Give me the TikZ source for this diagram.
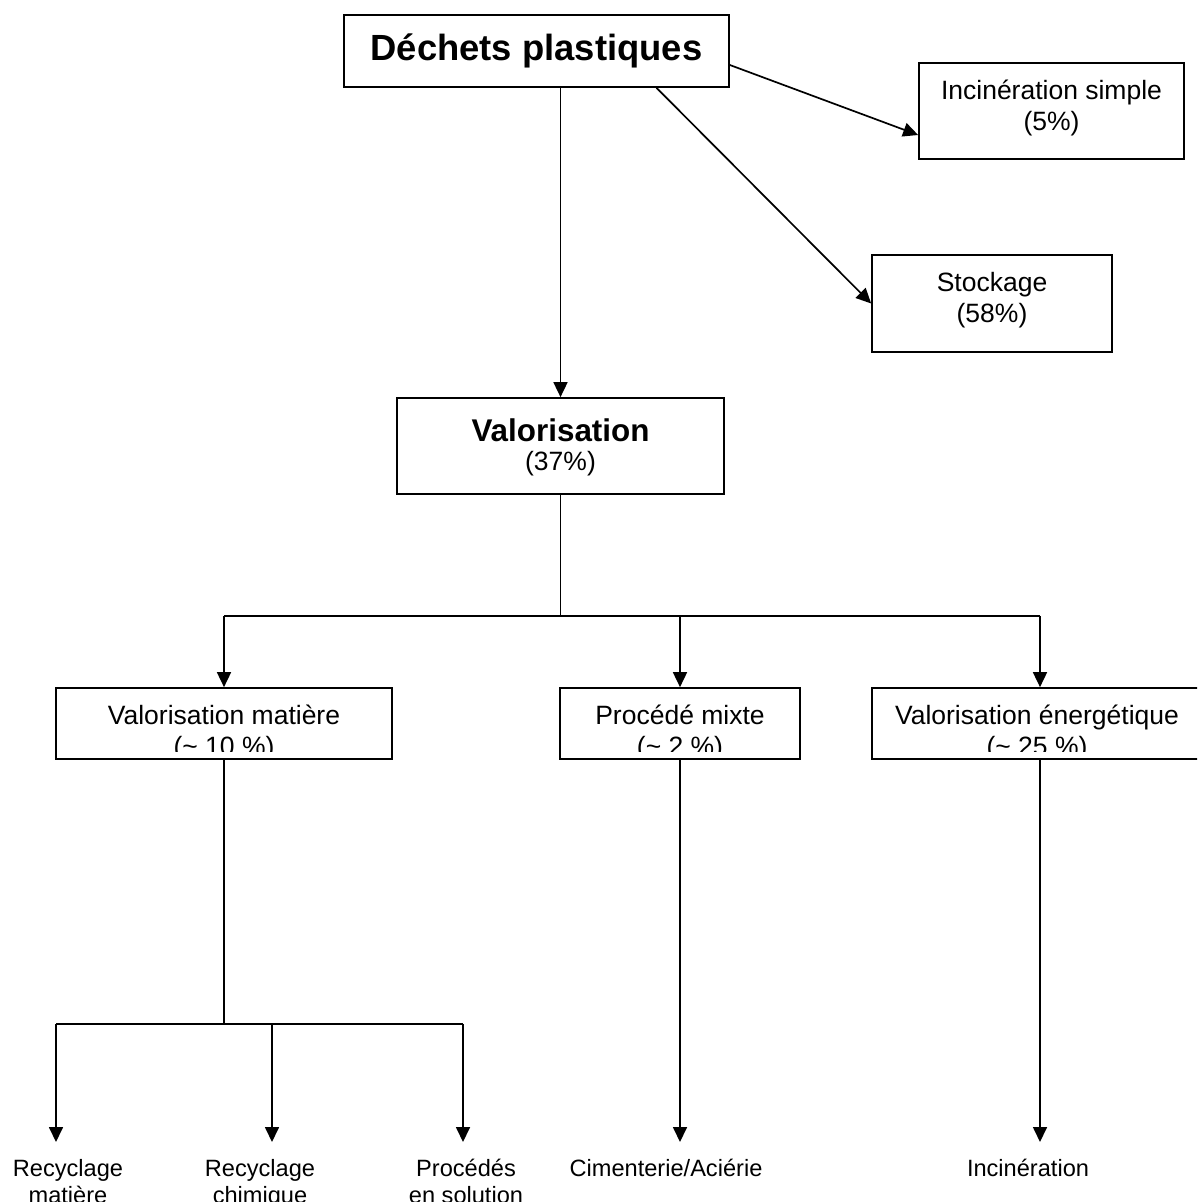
\documentclass[tikz,border=0pt]{standalone}
\usepackage{fontspec}
\setmainfont{Liberation Sans}
\usetikzlibrary{arrows.meta}
\begin{document}
\begin{tikzpicture}[x=1pt,y=-1pt,
  box/.style={draw,line width=1.7pt,inner sep=0pt},
  conn/.style={line width=1.7pt},
  arr/.style={conn,-{Triangle[length=15pt,width=14pt]}},
  norm/.style={font=\fontsize{26.5}{31}\selectfont,align=center,inner sep=0pt},
  lab/.style={font=\fontsize{23.6}{27}\selectfont,align=center,inner sep=0pt},
]
\useasboundingbox (0,0) rectangle (1197,1202);
\clip (0,0) rectangle (1197,1202);
% boxes
\node[box,minimum width=385pt,minimum height=72pt,font=\bfseries\fontsize{36.4}{40}\selectfont] (dechets) at (536.5,51) {Déchets plastiques};
\node[box,minimum width=265pt,minimum height=96pt] (incin) at (1051.5,111) {};
\node[norm] (incint) at (1051.5,109) {\strut Incinération simple\\\strut (5\%)};
\node[box,minimum width=240pt,minimum height=97pt] (stock) at (992,303.5) {};
\node[norm] (stockt) at (992,301) {\strut Stockage\\\strut (58\%)};
\node[box,minimum width=327pt,minimum height=96pt] (val) at (560.5,446) {};
\node[inner sep=0pt,font=\bfseries\fontsize{31.4}{36}\selectfont] (valt) at (560.5,430) {Valorisation};
\node[norm] (valp) at (560.5,464) {(37\%)};
\node[box,minimum width=336pt,minimum height=71pt] (vm) at (224,723.5) {};
\node[box,minimum width=240pt,minimum height=71pt] (pm) at (680,723.5) {};
\node[box,minimum width=336pt,minimum height=71pt] (ve) at (1040,723.5) {};
\begin{scope}
  \clip (0,688) rectangle (1197,751);
  \node[norm] (vmt) at (224,734) {\strut Valorisation matière\\\strut(\textasciitilde{} 10 \%)};
  \node[norm] (pmt) at (680,734) {\strut Procédé mixte\\\strut(\textasciitilde{} 2 \%)};
  \node[norm] (vet) at (1037,734) {\strut Valorisation énergétique\\\strut(\textasciitilde{} 25 \%)};
\end{scope}
% bottom labels
\node[lab] (l1) at (68,1184.5) {\strut Recyclage\\\strut matière};
\node[lab] (l2) at (260,1184.5) {\strut Recyclage\\\strut chimique};
\node[lab] (l3) at (466,1184.5) {\strut Procédés\\\strut en solution};
\node[lab] (l4) at (666,1171) {\strut Cimenterie/Aciérie};
\node[lab] (l5) at (1028,1171) {\strut Incinération};
\coordinate (t1) at (56,1142);
\coordinate (t2) at (272,1142);
\coordinate (t3) at (463,1142);
\coordinate (t4) at (680,1142);
\coordinate (t5) at (1040,1142);
% connectors from the top box
\draw[arr] (dechets.south -| val.north) -- (val.north);
\draw[arr] ([yshift=-14pt]dechets.east) -- ([yshift=-24pt]incin.west);
\draw[arr] ([xshift=120pt]dechets.south) -- (stock.west);
% tree below Valorisation
\draw[conn] (val.south) -- ++(0,121) coordinate (j1);
\draw[conn] (vm.north |- j1) -- (ve.north |- j1);
\draw[arr] (vm.north |- j1) -- (vm.north);
\draw[arr] (pm.north |- j1) -- (pm.north);
\draw[arr] (ve.north |- j1) -- (ve.north);
% below Valorisation matière
\draw[conn] (vm.south) -- ++(0,264) coordinate (j2);
\draw[conn] (t1 |- j2) -- (t3 |- j2);
\draw[arr] (t1 |- j2) -- (t1);
\draw[arr] (t2 |- j2) -- (t2);
\draw[arr] (t3 |- j2) -- (t3);
% below the other two
\draw[arr] (pm.south) -- (t4);
\draw[arr] (ve.south) -- (t5);
\end{tikzpicture}
\end{document}
